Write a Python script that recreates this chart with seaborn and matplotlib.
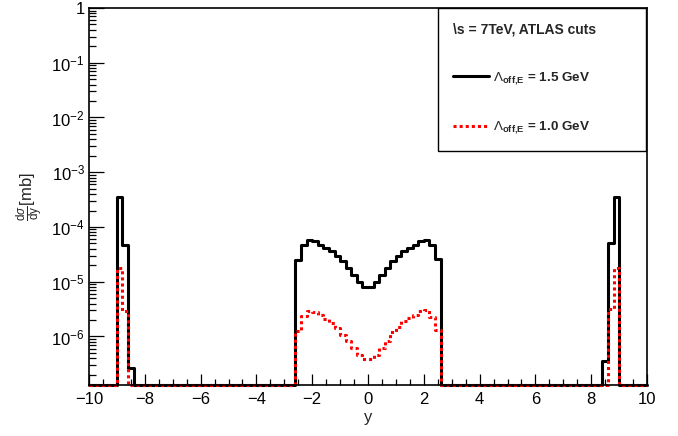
import numpy as np
import pandas as pd
import matplotlib
matplotlib.use("Agg")
import matplotlib.pyplot as plt
import seaborn as sns
from matplotlib.ticker import LogLocator, FuncFormatter, MultipleLocator, NullFormatter

# ---------------- data ----------------
x_min, x_max, bin_width = -10.0, 10.0, 0.2
y_floor, y_top = 1.3e-7, 1.0

black_left_start = -9.0
black_left = [3.6e-4, 4.7e-5, 2.7e-7]
black_center_start = -2.6
black_center = [2.45e-5, 4.73e-5, 5.67e-5, 5.44e-5, 4.73e-5, 4.12e-5, 3.57e-5,
                2.98e-5, 2.35e-5, 1.78e-5, 1.34e-5, 1.01e-5, 8.0e-6,
                8.0e-6, 1.01e-5, 1.34e-5, 1.78e-5, 2.35e-5, 2.98e-5, 3.57e-5,
                4.12e-5, 4.73e-5, 5.44e-5, 5.84e-5, 4.73e-5, 2.59e-5]
black_right_start = 8.4
black_right = [3.6e-7, 5.2e-5, 3.6e-4]

red_left_start = -9.0
red_left = [1.8e-5, 2.9e-6]
red_center_start = -2.6
red_center = [1.24e-6, 2.4e-6, 2.96e-6, 2.84e-6, 2.47e-6, 2.11e-6, 1.76e-6,
              1.43e-6, 1.08e-6, 8.15e-7, 6.17e-7, 4.66e-7, 3.88e-7,
              3.88e-7, 4.66e-7, 6.17e-7, 8.15e-7, 1.19e-6, 1.49e-6, 1.89e-6,
              2.17e-6, 2.5e-6, 2.88e-6, 3.0e-6, 2.26e-6, 1.29e-6]
red_right_start = 8.6
red_right = [3.2e-6, 1.78e-5]

label_black = r"$\Lambda_{\mathbf{off{,}E}}$ = 1.5 GeV"
label_red = r"$\Lambda_{\mathbf{off{,}E}}$ = 1.0 GeV"
legend_header = r"\s = 7TeV, ATLAS cuts"
x_title = "y"
y_title = r"$\frac{\mathrm{d}\sigma}{\mathrm{dy}}$[mb]"

# ---------------- build histograms ----------------
n_bins = int(round((x_max - x_min) / bin_width))
edges = np.linspace(x_min, x_max, n_bins + 1)


def build(pieces):
    vals = np.zeros(n_bins)
    for start, arr in pieces:
        i0 = int(round((start - x_min) / bin_width))
        vals[i0:i0 + len(arr)] = arr
    return vals


black_vals = build([(black_left_start, black_left), (black_center_start, black_center),
                    (black_right_start, black_right)])
red_vals = build([(red_left_start, red_left), (red_center_start, red_center),
                  (red_right_start, red_right)])


def step_frame(vals):
    v = np.maximum(vals, y_floor)
    return pd.DataFrame({"y": edges, "v": np.append(v, v[-1])})


# ---------------- style ----------------
sns.set_style("white")
plt.rcParams["font.family"] = ["Liberation Sans", "DejaVu Sans"]
plt.rcParams["mathtext.fontset"] = "custom"
plt.rcParams["mathtext.rm"] = "Liberation Sans"
plt.rcParams["mathtext.it"] = "Liberation Sans:italic"
plt.rcParams["mathtext.bf"] = "Liberation Sans:bold"
plt.rcParams["mathtext.sf"] = "Liberation Sans"

fig = plt.figure(figsize=(6.78, 4.36), dpi=100)
ax = fig.add_axes([89 / 678, 1 - 385 / 436, 558 / 678, 377 / 436])

sns.lineplot(data=step_frame(black_vals), x="y", y="v", drawstyle="steps-post",
             color="black", linewidth=2.2, estimator=None, sort=False,
             clip_on=False, ax=ax, label=label_black)
sns.lineplot(data=step_frame(red_vals), x="y", y="v", drawstyle="steps-post",
             color="#ff0000", linewidth=2.2, linestyle=(0, (1, 1)),
             dash_capstyle="butt", estimator=None, sort=False,
             clip_on=False, ax=ax, label=label_red)

ax.set_yscale("log")
ax.set_xlim(x_min, x_max)
ax.set_ylim(y_floor, y_top)

ax.xaxis.set_major_locator(MultipleLocator(2))
ax.xaxis.set_minor_locator(MultipleLocator(0.5))
ax.yaxis.set_major_locator(LogLocator(base=10, numticks=20))
ax.yaxis.set_minor_locator(LogLocator(base=10, subs=np.arange(2, 10), numticks=100))
ax.yaxis.set_minor_formatter(NullFormatter())


def yfmt(v, pos):
    if v < y_floor * 0.999 or v > y_top * 1.001:
        return ""
    e = int(round(np.log10(v)))
    if e == 0:
        return "1"
    return r"$10^{%d}$" % e


ax.yaxis.set_major_formatter(FuncFormatter(yfmt))

ax.tick_params(axis="both", which="both", direction="in", top=False, right=False,
               bottom=True, left=True, colors="black", labelsize=12, width=0.9)
ax.tick_params(axis="x", which="major", length=8, pad=5)
ax.tick_params(axis="x", which="minor", length=4.3)
ax.tick_params(axis="y", which="major", length=10.8, pad=3)
ax.tick_params(axis="y", which="minor", length=5)

for s in ax.spines.values():
    s.set_linewidth(1.2)
    s.set_color("black")

ax.set_xlabel(x_title, fontsize=12, labelpad=2)
ax.set_ylabel(y_title, fontsize=12, labelpad=4)

handles, _ = ax.get_legend_handles_labels()
leg = ax.legend(handles=handles, labels=[label_black, label_red],
                title=legend_header, loc="upper left",
                bbox_to_anchor=((438 - 89) / 558, 1.0, (646 - 438) / 558, 0),
                mode="expand", borderaxespad=0, frameon=True, fancybox=False,
                edgecolor="black", framealpha=1, prop={"weight": "bold", "size": 9.7},
                title_fontproperties={"weight": "bold", "size": 10},
                labelspacing=2.45, handlelength=2.7, handletextpad=0.25, borderpad=1.1)
leg._legend_box.align = "left"
leg.get_frame().set_linewidth(1.0)

fig.savefig("out.png", dpi=100)
